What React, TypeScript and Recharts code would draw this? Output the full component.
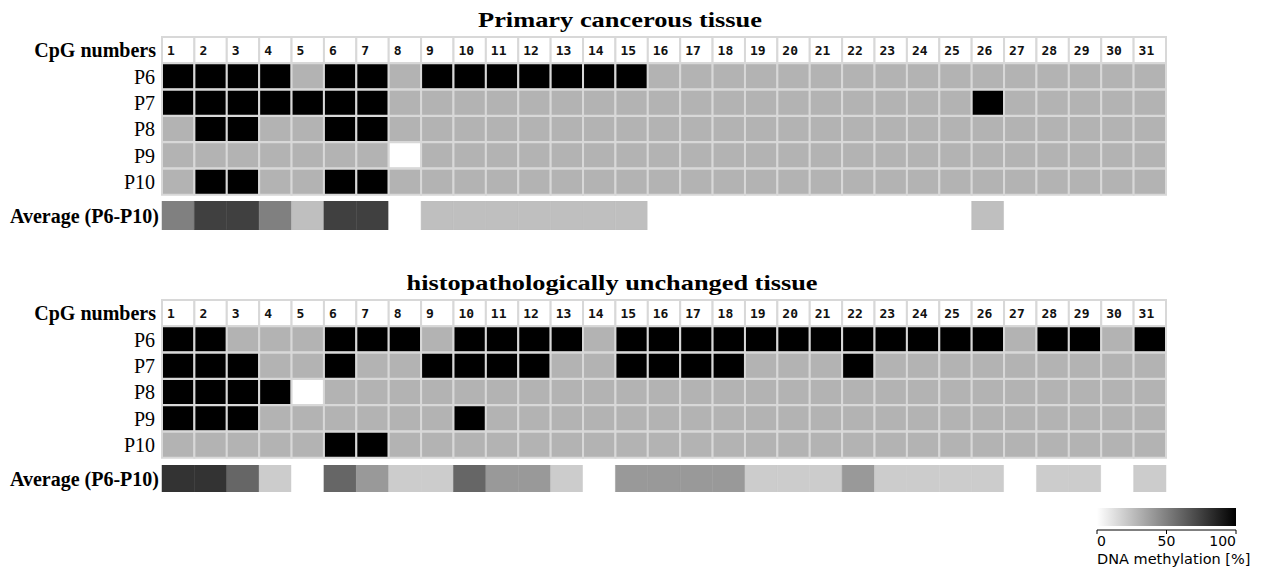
import React from "react";
import {
  BarChart,
  Bar,
  XAxis,
  YAxis,
  Cell,
  LabelList,
  Label,
} from "recharts";

// ---------------- data ----------------
const cpgNumbers = [1, 2, 3, 4, 5, 6, 7, 8, 9, 10, 11, 12, 13, 14, 15, 16, 17, 18, 19, 20, 21, 22, 23, 24, 25, 26, 27, 28, 29, 30, 31];
const patients = ["P6", "P7", "P8", "P9", "P10"];
const headerLabel = "CpG numbers";
const averageLabel = "Average (P6-P10)";
const primaryTitle = "Primary cancerous tissue";
const unchangedTitle = "histopathologically unchanged tissue";

// 1 = methylated, 0 = unmethylated, null = no data
const primaryP6 = [1, 1, 1, 1, 0, 1, 1, 0, 1, 1, 1, 1, 1, 1, 1, 0, 0, 0, 0, 0, 0, 0, 0, 0, 0, 0, 0, 0, 0, 0, 0];
const primaryP7 = [1, 1, 1, 1, 1, 1, 1, 0, 0, 0, 0, 0, 0, 0, 0, 0, 0, 0, 0, 0, 0, 0, 0, 0, 0, 1, 0, 0, 0, 0, 0];
const primaryP8 = [0, 1, 1, 0, 0, 1, 1, 0, 0, 0, 0, 0, 0, 0, 0, 0, 0, 0, 0, 0, 0, 0, 0, 0, 0, 0, 0, 0, 0, 0, 0];
const primaryP9 = [0, 0, 0, 0, 0, 0, 0, null, 0, 0, 0, 0, 0, 0, 0, 0, 0, 0, 0, 0, 0, 0, 0, 0, 0, 0, 0, 0, 0, 0, 0];
const primaryP10 = [0, 1, 1, 0, 0, 1, 1, 0, 0, 0, 0, 0, 0, 0, 0, 0, 0, 0, 0, 0, 0, 0, 0, 0, 0, 0, 0, 0, 0, 0, 0];
// average methylation [%] as shown by the colour scale
const primaryAverage = [50, 75, 75, 50, 25, 75, 75, 0, 25, 25, 25, 25, 25, 25, 25, 0, 0, 0, 0, 0, 0, 0, 0, 0, 0, 25, 0, 0, 0, 0, 0];

const unchangedP6 = [1, 1, 0, 0, 0, 1, 1, 1, 0, 1, 1, 1, 1, 0, 1, 1, 1, 1, 1, 1, 1, 1, 1, 1, 1, 1, 0, 1, 1, 0, 1];
const unchangedP7 = [1, 1, 1, 0, 0, 1, 0, 0, 1, 1, 1, 1, 0, 0, 1, 1, 1, 1, 0, 0, 0, 1, 0, 0, 0, 0, 0, 0, 0, 0, 0];
const unchangedP8 = [1, 1, 1, 1, null, 0, 0, 0, 0, 0, 0, 0, 0, 0, 0, 0, 0, 0, 0, 0, 0, 0, 0, 0, 0, 0, 0, 0, 0, 0, 0];
const unchangedP9 = [1, 1, 1, 0, 0, 0, 0, 0, 0, 1, 0, 0, 0, 0, 0, 0, 0, 0, 0, 0, 0, 0, 0, 0, 0, 0, 0, 0, 0, 0, 0];
const unchangedP10 = [0, 0, 0, 0, 0, 1, 1, 0, 0, 0, 0, 0, 0, 0, 0, 0, 0, 0, 0, 0, 0, 0, 0, 0, 0, 0, 0, 0, 0, 0, 0];
const unchangedAverage = [80, 80, 60, 20, 0, 60, 40, 20, 20, 60, 40, 40, 20, 0, 40, 40, 40, 40, 20, 20, 20, 40, 20, 20, 20, 20, 0, 20, 20, 0, 20];

const legendTicks = [0, 50, 100];
const legendTitle = "DNA methylation [%]";

// ---------------- styling ----------------
const W = 1261;
const SERIF = "'Liberation Serif', 'Times New Roman', Times, serif";
const COLORS = {
  methylated: "#000000",
  unmethylated: "#b3b3b3",
  missing: "#ffffff",
  header: "#ffffff",
  grid: "#d8d8d8",
};

const cellFill = (v: number | null | string) => {
  if (v === "header") return COLORS.header;
  if (v === null || v === undefined) return COLORS.missing;
  return v ? COLORS.methylated : COLORS.unmethylated;
};
const avgFill = (v: number) => {
  const g = Math.round(255 * (1 - v / 100));
  return `rgb(${g},${g},${g})`;
};

function buildGridRows(matrix: (number | null)[][]) {
  const header: any = { row: headerLabel };
  cpgNumbers.forEach((n, i) => {
    header[`c${i}`] = 1;
    header[`l${i}`] = String(n);
    header[`s${i}`] = "header";
  });
  const rows = matrix.map((vals, r) => {
    const o: any = { row: patients[r] };
    vals.forEach((v, i) => {
      o[`c${i}`] = 1;
      o[`s${i}`] = v;
    });
    return o;
  });
  return [header, ...rows];
}

const GridTick = (props: any) => {
  const { x, y, payload } = props;
  const isHeader = payload.value === headerLabel;
  return (
    <text
      x={x + (isHeader ? 1 : 0)}
      y={y}
      dy="0.35em"
      textAnchor="end"
      fontFamily={SERIF}
      fontSize={20}
      fontWeight={isHeader ? "bold" : "normal"}
      fill="#000"
    >
      {payload.value}
    </text>
  );
};

const AvgTick = (props: any) => {
  const { x, y, payload } = props;
  return (
    <text x={x} y={y} dy="0.35em" textAnchor="end" fontFamily={SERIF} fontSize={20} fontWeight="bold" fill="#000">
      {payload.value}
    </text>
  );
};

function HeatGrid({ matrix }: { matrix: (number | null)[][] }) {
  const rows = buildGridRows(matrix);
  return (
    <BarChart
      width={W}
      height={201}
      data={rows}
      layout="vertical"
      margin={{ top: 37, right: 95, bottom: 6, left: 0 }}
      barCategoryGap={0}
      barGap={0}
    >
      <XAxis type="number" domain={[0, cpgNumbers.length]} hide />
      <YAxis
        type="category"
        dataKey="row"
        width={162}
        tickLine={false}
        axisLine={false}
        tickSize={0}
        tickMargin={7}
        interval={0}
        tick={(p: any) => <GridTick {...p} />}
      />
      {cpgNumbers.map((n, i) => (
        <Bar
          key={n}
          dataKey={`c${i}`}
          stackId="cpg"
          isAnimationActive={false}
          stroke={COLORS.grid}
          strokeWidth={2}
        >
          {rows.map((r: any, j: number) => (
            <Cell key={j} fill={cellFill(r[`s${i}`])} />
          ))}
          <LabelList
            dataKey={`l${i}`}
            position="insideLeft"
            offset={5}
            fill="#111"
            fontSize={13}
            fontWeight="bold"
            fontFamily="'DejaVu Sans Mono', monospace"
          />
        </Bar>
      ))}
    </BarChart>
  );
}

function AverageRow({ values, height }: { values: number[]; height: number }) {
  const row: any = { row: averageLabel };
  values.forEach((_, i) => (row[`c${i}`] = 1));
  return (
    <BarChart
      width={W}
      height={height}
      data={[row]}
      layout="vertical"
      margin={{ top: 0, right: 95, bottom: 0, left: 0 }}
      barCategoryGap={0}
      barGap={0}
    >
      <XAxis type="number" domain={[0, cpgNumbers.length]} hide />
      <YAxis
        type="category"
        dataKey="row"
        width={162}
        tickLine={false}
        axisLine={false}
        tickSize={0}
        tickMargin={3}
        interval={0}
        tick={(p: any) => <AvgTick {...p} />}
      />
      {values.map((v, i) => (
        <Bar
          key={i}
          dataKey={`c${i}`}
          stackId="avg"
          isAnimationActive={false}
          fill={avgFill(v)}
          stroke={avgFill(v)}
          strokeWidth={0.5}
        />
      ))}
    </BarChart>
  );
}

const LegendTick = (props: any) => {
  const { x, y, payload, index } = props;
  const anchor = index === 0 ? "start" : index === legendTicks.length - 1 ? "end" : "middle";
  return (
    <text x={x} y={y} dy="0.71em" textAnchor={anchor} fontFamily="'DejaVu Sans', sans-serif" fontSize={14} fill="#000">
      {payload.value}
    </text>
  );
};

function ColorLegend() {
  const data = [{ name: "scale", v: legendTicks[legendTicks.length - 1] }];
  return (
    <BarChart
      width={181}
      height={70}
      data={data}
      layout="vertical"
      margin={{ top: 4, right: 25, bottom: 0, left: 17 }}
    >
      <defs>
        <linearGradient id="methGrad" x1="0" y1="0" x2="1" y2="0">
          <stop offset="0" stopColor="#ffffff" />
          <stop offset="1" stopColor="#000000" />
        </linearGradient>
      </defs>
      <XAxis
        type="number"
        domain={[0, 100]}
        ticks={legendTicks}
        interval={0}
        height={40}
        tickSize={4}
        tickMargin={2}
        axisLine={{ stroke: "#000" }}
        tickLine={{ stroke: "#000" }}
        tick={(p: any) => <LegendTick {...p} />}
      >
        <Label
          content={(p: any) => (
            <text
              x={p.viewBox.x}
              y={p.viewBox.y + 34}
              fontFamily="'DejaVu Sans', sans-serif"
              fontSize={14.5}
              fill="#000"
            >
              {legendTitle}
            </text>
          )}
        />
      </XAxis>
      <YAxis type="category" dataKey="name" hide />
      <Bar dataKey="v" barSize={18} fill="url(#methGrad)" isAnimationActive={false} />
    </BarChart>
  );
}

export default function App() {
  return (
    <div style={{ position: "relative", width: W, height: 570, background: "#fff", overflow: "hidden" }}>
      <style>{"body{margin:0;background:#fff}"}</style>
      <svg width={W} height={570} style={{ position: "absolute", left: 0, top: 0 }}>
        <text x={620} y={27} textAnchor="middle" fontFamily={SERIF} fontWeight="bold" fontSize={22} textLength={284} lengthAdjust="spacingAndGlyphs">
          {primaryTitle}
        </text>
        <text x={612} y={290} textAnchor="middle" fontFamily={SERIF} fontWeight="bold" fontSize={22} textLength={411} lengthAdjust="spacingAndGlyphs">
          {unchangedTitle}
        </text>
      </svg>
      <div style={{ position: "absolute", left: 0, top: 0 }}>
        <HeatGrid matrix={[primaryP6, primaryP7, primaryP8, primaryP9, primaryP10]} />
      </div>
      <div style={{ position: "absolute", left: 0, top: 201 }}>
        <AverageRow values={primaryAverage} height={29} />
      </div>
      <div style={{ position: "absolute", left: 0, top: 263 }}>
        <HeatGrid matrix={[unchangedP6, unchangedP7, unchangedP8, unchangedP9, unchangedP10]} />
      </div>
      <div style={{ position: "absolute", left: 0, top: 465 }}>
        <AverageRow values={unchangedAverage} height={27} />
      </div>
      <div style={{ position: "absolute", left: 1080, top: 500 }}>
        <ColorLegend />
      </div>
    </div>
  );
}
